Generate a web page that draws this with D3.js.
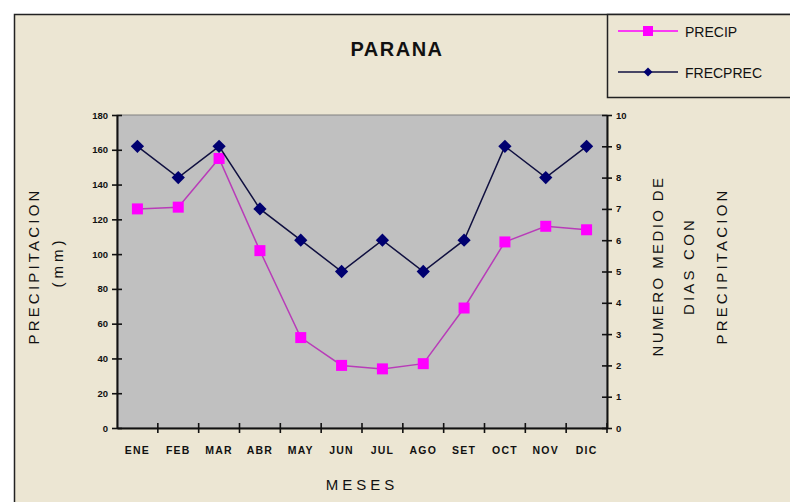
<!DOCTYPE html>
<html>
<head>
<meta charset="utf-8">
<script src="https://cdn.jsdelivr.net/npm/d3@7"></script>
<style>
  html, body { margin: 0; padding: 0; background: #ffffff; }
  svg { display: block; }
  text { font-family: "Liberation Sans", Arial, sans-serif; }
</style>
</head>
<body>
<svg id="chart" width="790" height="502"></svg>
<script>
// Monthly data for Paraná
const months = ["ENE","FEB","MAR","ABR","MAY","JUN","JUL","AGO","SET","OCT","NOV","DIC"];
const precip = [126, 127, 155, 102, 52, 36, 34, 37, 69, 107, 116, 114];   // mm
const frecPrec = [9, 8, 9, 7, 6, 5, 6, 5, 6, 9, 8, 9];                   // days with rain
const leftTicks = [0, 20, 40, 60, 80, 100, 120, 140, 160, 180];
const rightTicks = [0, 1, 2, 3, 4, 5, 6, 7, 8, 9, 10];

const svg = d3.select("#chart");

// Chart area background and frame
svg.append("rect").attr("x", 14.5).attr("y", 14.5).attr("width", 800).attr("height", 500)
  .attr("fill", "#ECE6D3").attr("stroke", "#222").attr("stroke-width", 1.5);

const plot = { left: 117, right: 607, top: 115, bottom: 428 };

const x = d3.scaleBand().domain(months).range([plot.left, plot.right]).padding(0);
const yL = d3.scaleLinear().domain([0, 180]).range([plot.bottom, plot.top]);
const yR = d3.scaleLinear().domain([0, 10]).range([plot.bottom, plot.top]);

// Plot area
svg.append("rect").attr("x", plot.left).attr("y", plot.top)
  .attr("width", plot.right - plot.left).attr("height", plot.bottom - plot.top)
  .attr("fill", "#C0C0C0").attr("stroke", "#808080").attr("stroke-width", 1);

// Title
svg.append("text").attr("x", 397).attr("y", 56).attr("text-anchor", "middle")
  .attr("font-size", 20).attr("font-weight", "bold").attr("letter-spacing", 1.5)
  .attr("fill", "#111").text("PARANA");

// Left axis
const axL = svg.append("g").attr("transform", `translate(${plot.left},0)`)
  .call(d3.axisLeft(yL).tickValues(leftTicks).tickSize(5).tickSizeOuter(0));
axL.selectAll(".tick line").attr("x2", 5).attr("x1", -5);
axL.selectAll(".tick text").attr("x", -9);

// Right axis
const axR = svg.append("g").attr("transform", `translate(${plot.right},0)`)
  .call(d3.axisRight(yR).tickValues(rightTicks).tickSize(5).tickSizeOuter(0));
axR.selectAll(".tick line").attr("x1", -5).attr("x2", 5);
axR.selectAll(".tick text").attr("x", 9);

// Bottom axis: ticks between categories
const axB = svg.append("g").attr("transform", `translate(0,${plot.bottom})`)
  .call(d3.axisBottom(x).tickSize(0).tickSizeOuter(0).tickPadding(19));
axB.selectAll(".tick").each(function () {
  const half = x.bandwidth() / 2;
  d3.select(this).append("line").attr("x1", half).attr("x2", half)
    .attr("y1", -5).attr("y2", 5);
});

[axL, axR, axB].forEach(a => {
  a.select(".domain").attr("stroke", "#111").attr("stroke-width", 2);
  a.selectAll(".tick line").attr("stroke", "#111").attr("stroke-width", 1.6);
  a.selectAll(".tick text").attr("fill", "#111").attr("font-weight", "bold")
    .attr("font-family", "'DejaVu Sans', sans-serif").attr("font-size", 9.5);
});
axB.selectAll(".tick text").attr("font-size", 10.5).attr("letter-spacing", 1.2);

// Axis titles
const title = (tx, ty, txt, ls) => svg.append("text")
  .attr("transform", `translate(${tx},${ty}) rotate(-90)`).attr("text-anchor", "middle")
  .attr("font-size", 15).attr("fill", "#111").attr("letter-spacing", ls).text(txt);

title(39, 266, "PRECIPITACION", 3.2);
title(63, 262, "(mm)", 4);
title(663, 266, "NUMERO MEDIO DE", 2.4);
title(694, 266, "DIAS CON", 3.2);
title(727, 266, "PRECIPITACION", 3.2);

svg.append("text").attr("x", 362).attr("y", 490).attr("text-anchor", "middle")
  .attr("font-size", 15).attr("letter-spacing", 4).attr("fill", "#111").text("MESES");

const cx = d => x(d) + x.bandwidth() / 2;

// PRECIP series
const lineP = d3.line().x((d, i) => cx(months[i])).y(d => yL(d));
svg.append("path").datum(precip).attr("d", lineP).attr("fill", "none")
  .attr("stroke", "#B83CB8").attr("stroke-width", 1.5);
svg.append("g").selectAll("rect").data(precip).join("rect")
  .attr("x", (d, i) => cx(months[i]) - 5.5).attr("y", d => yL(d) - 5.5)
  .attr("width", 11).attr("height", 11).attr("fill", "#FF00FF");

// FRECPREC series
const lineF = d3.line().x((d, i) => cx(months[i])).y(d => yR(d));
svg.append("path").datum(frecPrec).attr("d", lineF).attr("fill", "none")
  .attr("stroke", "#101040").attr("stroke-width", 1.5);
const diamond = d3.symbol().type(d3.symbolSquare).size(88);
svg.append("g").selectAll("path").data(frecPrec).join("path")
  .attr("transform", (d, i) => `translate(${cx(months[i])},${yR(d)}) rotate(45)`)
  .attr("d", diamond).attr("fill", "#000070");

// Legend
const leg = svg.append("g");
leg.append("rect").attr("x", 607.5).attr("y", 14.5).attr("width", 200).attr("height", 83)
  .attr("fill", "#ECE6D3").attr("stroke", "#222").attr("stroke-width", 1.5);
leg.append("line").attr("x1", 618).attr("x2", 678).attr("y1", 31).attr("y2", 31)
  .attr("stroke", "#FF00FF").attr("stroke-width", 1.5);
leg.append("rect").attr("x", 643).attr("y", 26).attr("width", 10).attr("height", 10).attr("fill", "#FF00FF");
leg.append("text").attr("x", 685).attr("y", 37).attr("font-size", 14).attr("fill", "#111").text("PRECIP");
leg.append("line").attr("x1", 618).attr("x2", 678).attr("y1", 72).attr("y2", 72)
  .attr("stroke", "#101040").attr("stroke-width", 1.5);
leg.append("path").attr("transform", "translate(648,72) rotate(45)")
  .attr("d", d3.symbol().type(d3.symbolSquare).size(40)).attr("fill", "#000070");
leg.append("text").attr("x", 685).attr("y", 78).attr("font-size", 14).attr("fill", "#111").text("FRECPREC");
</script>
</body>
</html>
